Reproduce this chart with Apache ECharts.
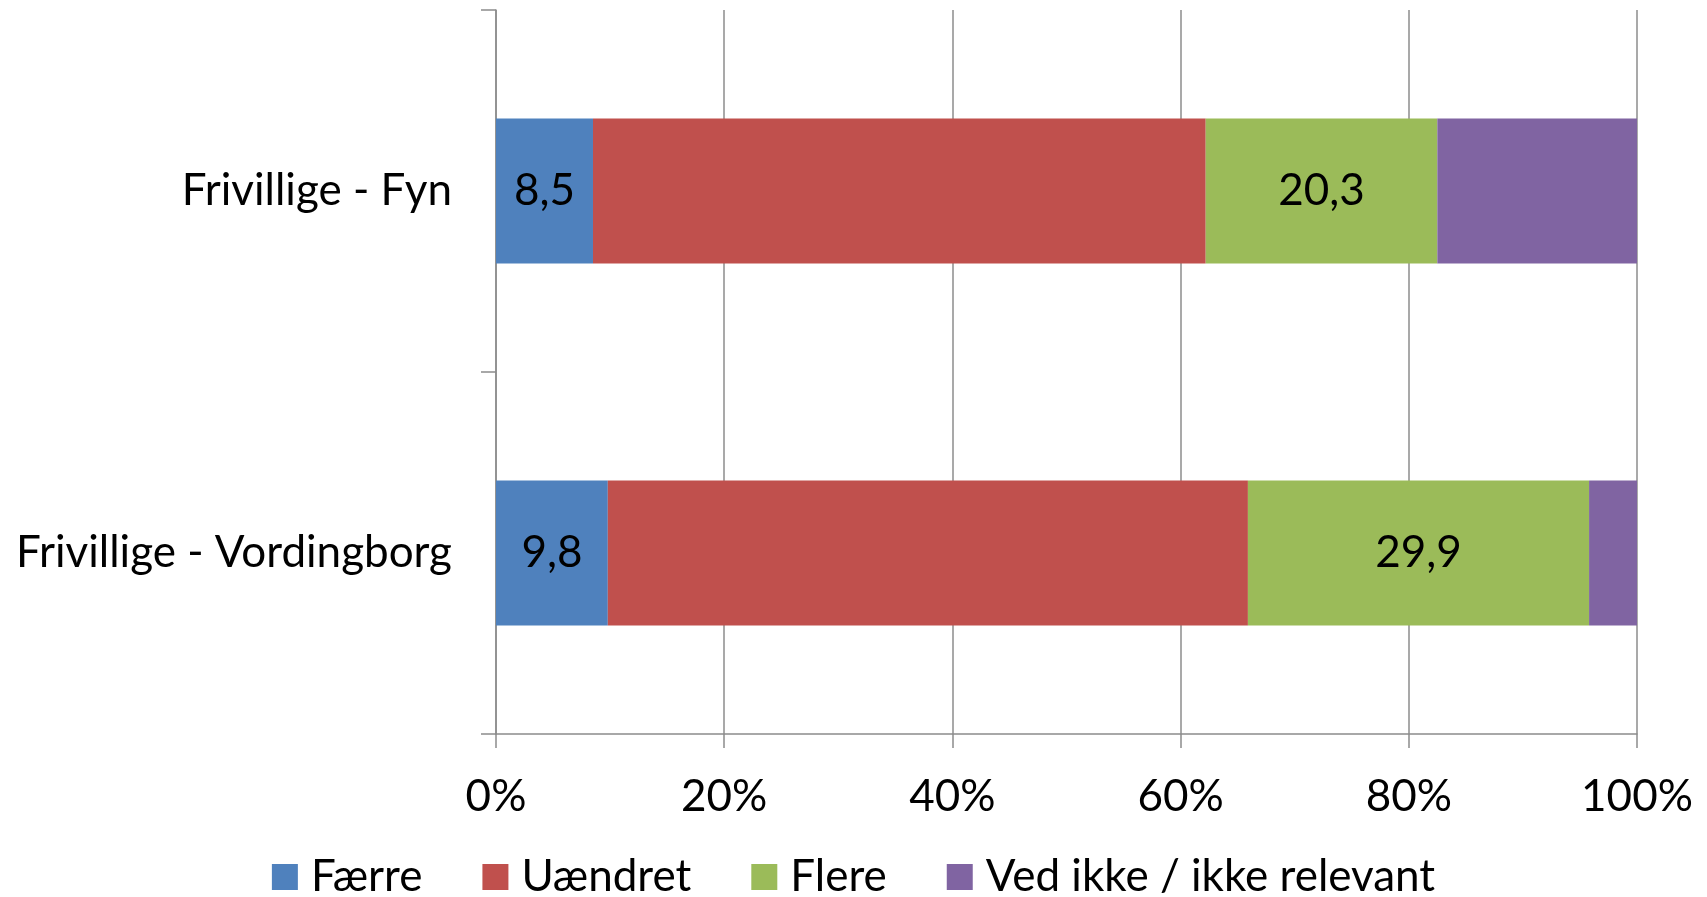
<!DOCTYPE html>
<html>
<head>
<meta charset="utf-8">
<script src="https://cdn.jsdelivr.net/npm/echarts@6/dist/echarts.min.js"></script>
<style>
  html, body { margin: 0; padding: 0; background: #fff; }
  #chart { width: 1707px; height: 897px; }
</style>
</head>
<body>
<div id="chart"></div>
<script>
const categories = ['Frivillige - Fyn', 'Frivillige - Vordingborg'];
const seriesNames = ['Færre', 'Uændret', 'Flere', 'Ved ikke / ikke relevant'];
const faerre = [8.5, 9.8];
const uaendret = [53.7, 56.1];
const flere = [20.3, 29.9];
const vedIkke = [17.5, 4.2];
const xTicks = [0, 20, 40, 60, 80, 100];

const colors = ['#4F81BD', '#C0504D', '#9BBB59', '#8064A2'];
const showLabel = [true, false, true, false];
const font = 'Lato, "Open Sans", sans-serif';
const fontSize = 44;
const gray = '#8c8c8c';

const chart = echarts.init(document.getElementById('chart'));

const makeSeries = (name, data, i) => ({
  name: name,
  type: 'bar',
  stack: 'total',
  data: data,
  barWidth: '40%',
  itemStyle: { color: colors[i] },
  label: {
    show: showLabel[i],
    position: 'inside',
    color: '#000',
    fontFamily: font,
    fontSize: fontSize,
    formatter: (p) => String(p.value).replace('.', ',')
  },
  emphasis: { disabled: true }
});

chart.setOption({
  animation: false,
  grid: { left: 496, right: 70, top: 10, bottom: 163 },
  xAxis: {
    type: 'value',
    min: xTicks[0],
    max: xTicks[xTicks.length - 1],
    interval: 20,
    axisLine: { show: true, lineStyle: { color: gray, width: 1.5 } },
    axisTick: { show: true, length: 14, lineStyle: { color: gray, width: 1.5 } },
    splitLine: { show: true, lineStyle: { color: gray, width: 1.5 } },
    axisLabel: {
      formatter: '{value}%',
      color: '#000',
      fontFamily: font,
      fontSize: fontSize,
      margin: 41
    }
  },
  yAxis: {
    type: 'category',
    data: categories,
    inverse: true,
    axisLine: { show: true, lineStyle: { color: gray, width: 1.5 } },
    axisTick: { show: true, length: 15, lineStyle: { color: gray, width: 1.5 } },
    axisLabel: {
      color: '#000',
      fontFamily: font,
      fontSize: fontSize,
      margin: 44
    }
  },
  legend: {
    data: seriesNames,
    top: 850,
    left: 'center',
    itemWidth: 26,
    itemHeight: 26,
    itemGap: 60,
    icon: 'rect',
    textStyle: { color: '#000', fontFamily: font, fontSize: fontSize, padding: [0, 0, 0, 8] }
  },
  series: [
    makeSeries(seriesNames[0], faerre, 0),
    makeSeries(seriesNames[1], uaendret, 1),
    makeSeries(seriesNames[2], flere, 2),
    makeSeries(seriesNames[3], vedIkke, 3)
  ]
});
</script>
</body>
</html>
